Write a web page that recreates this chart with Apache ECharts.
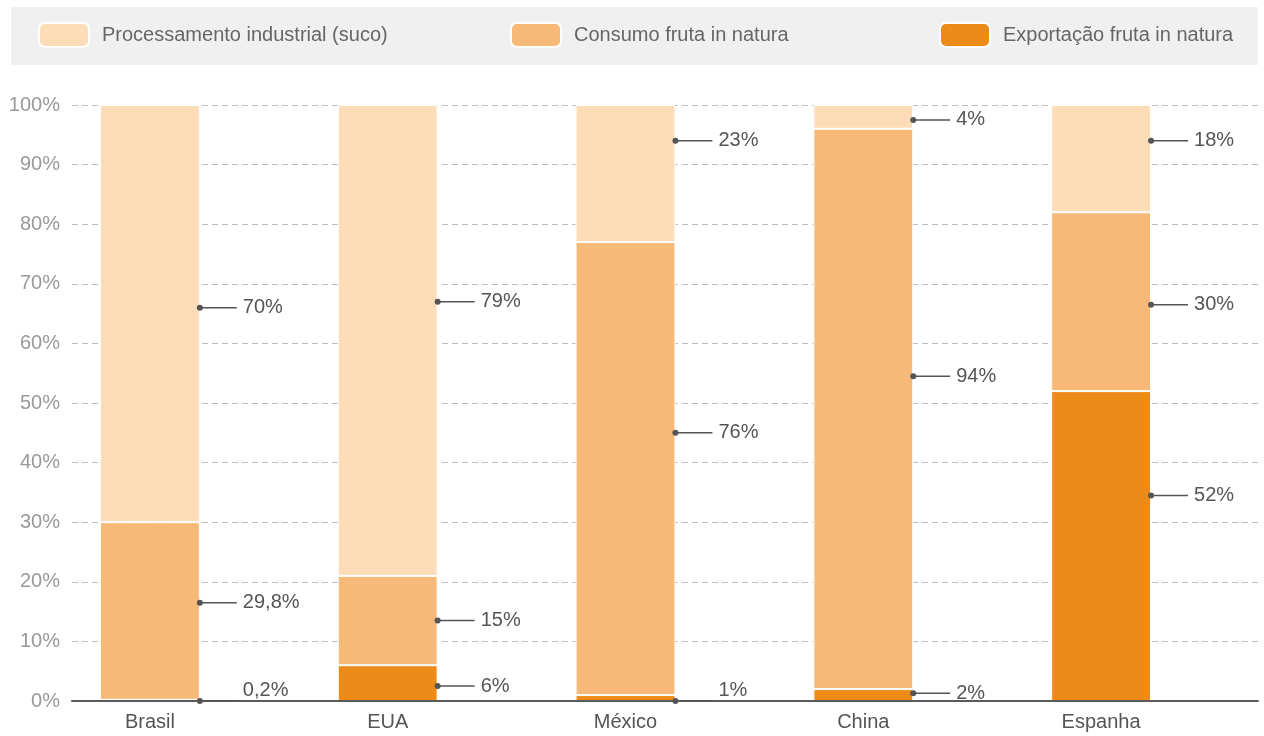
<!DOCTYPE html>
<html>
<head>
<meta charset="utf-8">
<script src="https://cdn.jsdelivr.net/npm/echarts@6/dist/echarts.min.js"></script>
<style>
  html, body { margin: 0; padding: 0; background: #ffffff; }
  #chart { width: 1264px; height: 736px; }
</style>
</head>
<body>
<div id="chart"></div>
<script>
// Destino da produção de laranja por país (% do total)
const countries = ['Brasil', 'EUA', 'México', 'China', 'Espanha'];
const seriesNames = ['Processamento industrial (suco)', 'Consumo fruta in natura', 'Exportação fruta in natura'];

const processamento = [70, 79, 23, 4, 18];
const consumo = [29.8, 15, 76, 94, 30];
const exportacao = [0.2, 6, 1, 2, 52];

const processamentoLabels = ['70%', '79%', '23%', '4%', '18%'];
const consumoLabels = ['29,8%', '15%', '76%', '94%', '30%'];
const exportacaoLabels = ['0,2%', '6%', '1%', '2%', '52%'];

// height (in %) where each callout leaves its bar
const processamentoCallout = [66, 67, 94, 97.5, 94];
const consumoCallout = [16.5, 13.5, 45, 54.5, 66.5];
const exportacaoCallout = [0, 2.5, 0, 1.3, 34.5];

const yTicks = [0, 10, 20, 30, 40, 50, 60, 70, 80, 90, 100];

const colors = {
  processamento: '#fddcb8',
  consumo: '#f6b977',
  exportacao: '#ee8a18'
};

const BAR_RATIO = 0.42;
const FONT = '"Liberation Sans", Arial, Helvetica, sans-serif';

const calloutData = [];
countries.forEach((c, i) => {
  calloutData.push([i, processamentoCallout[i], processamentoLabels[i]]);
  calloutData.push([i, consumoCallout[i], consumoLabels[i]]);
  calloutData.push([i, exportacaoCallout[i], exportacaoLabels[i]]);
});

function barSeries(name, values, color) {
  return {
    name: name,
    type: 'bar',
    stack: 'total',
    xAxisIndex: 1,
    yAxisIndex: 1,
    barWidth: (BAR_RATIO * 100) + '%',
    data: values,
    itemStyle: { color: color, borderColor: '#ffffff', borderWidth: 1 },
    emphasis: { disabled: true },
    animation: false
  };
}

function legendFor(name, left) {
  return {
    data: [name],
    left: left,
    top: 22,
    padding: 0,
    itemWidth: 50,
    itemHeight: 24,
    selectedMode: false,
    textStyle: { color: '#666666', fontSize: 20, fontFamily: FONT, padding: [0, 0, 0, 8] }
  };
}

const chart = echarts.init(document.getElementById('chart'), null, { renderer: 'canvas' });

chart.setOption({
  backgroundColor: '#ffffff',
  animation: false,
  graphic: [{
    type: 'rect',
    left: 11,
    top: 7,
    shape: { width: 1247, height: 58 },
    style: { fill: '#f0f0f0' },
    z: -10,
    silent: true
  }],
  legend: [
    legendFor(seriesNames[0], 38),
    legendFor(seriesNames[1], 510),
    legendFor(seriesNames[2], 939)
  ],
  grid: [
    { left: 72, right: 6, top: 105, bottom: 35 },
    { left: 31, right: 44, top: 105, bottom: 35 }
  ],
  xAxis: [
    {
      type: 'value',
      gridIndex: 0,
      min: 0,
      max: 1,
      z: 5,
      axisLine: { show: true, lineStyle: { color: '#5a5a5a', width: 2 } },
      axisTick: { show: false },
      axisLabel: { show: false },
      splitLine: { show: false }
    },
    {
      type: 'category',
      gridIndex: 1,
      data: countries,
      axisLine: { show: false },
      axisTick: { show: false },
      axisLabel: { color: '#555555', fontSize: 20, fontFamily: FONT, margin: 11 }
    }
  ],
  yAxis: [
    {
      type: 'value',
      gridIndex: 0,
      min: yTicks[0],
      max: yTicks[yTicks.length - 1],
      interval: 10,
      axisLine: { show: false },
      axisTick: { show: false },
      axisLabel: { color: '#999999', fontSize: 20, fontFamily: FONT, margin: 12, formatter: '{value}%' },
      splitLine: { show: true, lineStyle: { color: '#bdbdbd', type: [6, 4], width: 1 } }
    },
    {
      type: 'value',
      gridIndex: 1,
      min: 0,
      max: 100,
      show: false,
      splitLine: { show: false }
    }
  ],
  series: [
    barSeries(seriesNames[2], exportacao, colors.exportacao),
    barSeries(seriesNames[1], consumo, colors.consumo),
    barSeries(seriesNames[0], processamento, colors.processamento),
    {
      type: 'custom',
      xAxisIndex: 1,
      yAxisIndex: 1,
      silent: true,
      z: 10,
      data: calloutData,
      renderItem: function (params, api) {
        const p = api.coord([api.value(0), api.value(1)]);
        const band = api.size([1, 0])[0];
        const x0 = p[0] + band * BAR_RATIO / 2;
        const y0 = p[1];
        const onAxis = api.value(1) === 0;
        const textY = onAxis ? y0 - 11 : y0;
        return {
          type: 'group',
          children: [
            {
              type: 'line',
              shape: { x1: x0, y1: y0, x2: x0 + 37, y2: y0 },
              style: { stroke: '#555555', lineWidth: 1.5 }
            },
            {
              type: 'circle',
              shape: { cx: x0, cy: y0, r: 3 },
              style: { fill: '#555555' }
            },
            {
              type: 'text',
              x: x0 + 43,
              y: textY,
              style: {
                text: calloutData[params.dataIndex][2],
                fill: '#555555',
                font: '20px ' + FONT,
                textAlign: 'left',
                textVerticalAlign: 'middle'
              }
            }
          ]
        };
      }
    }
  ]
});
</script>
</body>
</html>
